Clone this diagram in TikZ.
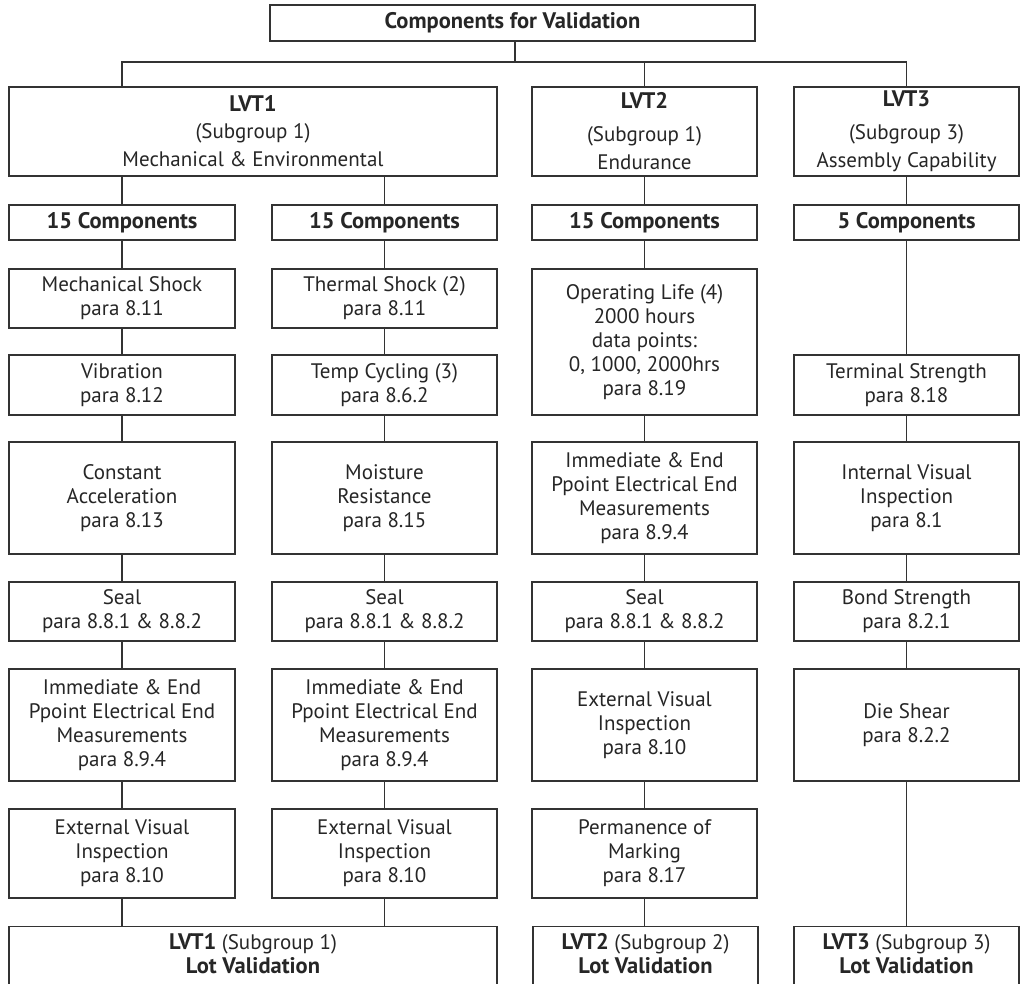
\documentclass[tikz,border=0pt]{standalone}
\usepackage{fontspec}
\setmainfont{PT Sans}
\newcommand{\bt}[1]{{\fontsize{22.5}{24}\selectfont\bfseries #1}}
\begin{document}
\begin{tikzpicture}[x=1pt,y=-1pt,
  bx/.style={draw=black!80, line width=1.3pt, text=black!85, align=center, inner sep=0pt,
    font=\fontsize{21}{24}\selectfont},
  tx/.style={text=black!85, align=center, inner sep=0pt, font=\fontsize{21}{24}\selectfont},
  ln/.style={draw=black!80, line width=1.3pt}]
\clip (0,0) rectangle (1025,984);
\fill[white] (0,0) rectangle (1025,984);
% top
\node[bx, minimum width=485pt, minimum height=36pt] (top) at (512.5,23) {\bt{Components for Validation}};
% LVT headers
\node[bx, minimum width=488pt, minimum height=89pt] (L1) at (253,131.5) {\bt{LVT1}\\[3pt](Subgroup 1)\\[4pt]Mechanical \& Environmental};
\node[bx, minimum width=225pt, minimum height=89pt] (L2) at (644.5,131.5) {\bt{LVT2}\\[9pt](Subgroup 1)\\[4pt]Endurance};
\node[bx, minimum width=225pt, minimum height=89pt] (L3) at (906.5,131.5) {\bt{LVT3}\\[9pt](Subgroup 3)\\[4pt]Assembly Capability};
% component counts
\node[bx, minimum width=226pt, minimum height=35pt] (C1) at (122,222.5) {\bt{15 Components}};
\node[bx, minimum width=225pt, minimum height=35pt] (C2) at (384.5,222.5) {\bt{15 Components}};
\node[bx, minimum width=225pt, minimum height=35pt] (C3) at (644.5,222.5) {\bt{15 Components}};
\node[bx, minimum width=225pt, minimum height=35pt] (C4) at (906.5,222.5) {\bt{5 Components}};
% column 1
\node[bx, minimum width=226pt, minimum height=59pt] (A1) at (122,298.5) {Mechanical Shock\\para 8.11};
\node[bx, minimum width=226pt, minimum height=60pt] (A2) at (122,385) {Vibration\\para 8.12};
\node[bx, minimum width=226pt, minimum height=112pt] (A3) at (122,498) {Constant\\Acceleration\\para 8.13};
\node[bx, minimum width=226pt, minimum height=59pt] (A4) at (122,611.5) {Seal\\para 8.8.1 \& 8.8.2};
\node[bx, minimum width=226pt, minimum height=112pt] (A5) at (122,725) {Immediate \& End\\Ppoint Electrical End\\Measurements\\para 8.9.4};
\node[bx, minimum width=226pt, minimum height=89pt] (A6) at (122,853.5) {External Visual\\Inspection\\para 8.10};
% column 2
\node[bx, minimum width=225pt, minimum height=59pt] (B1) at (384.5,298.5) {Thermal Shock (2)\\para 8.11};
\node[bx, minimum width=225pt, minimum height=60pt] (B2) at (384.5,385) {Temp Cycling (3)\\para 8.6.2};
\node[bx, minimum width=225pt, minimum height=112pt] (B3) at (384.5,498) {Moisture\\Resistance\\para 8.15};
\node[bx, minimum width=225pt, minimum height=59pt] (B4) at (384.5,611.5) {Seal\\para 8.8.1 \& 8.8.2};
\node[bx, minimum width=225pt, minimum height=112pt] (B5) at (384.5,725) {Immediate \& End\\Ppoint Electrical End\\Measurements\\para 8.9.4};
\node[bx, minimum width=225pt, minimum height=89pt] (B6) at (384.5,853.5) {External Visual\\Inspection\\para 8.10};
% column 3
\node[bx, minimum width=225pt, minimum height=146pt] (D1) at (644.5,342) {Operating Life (4)\\2000 hours\\data points:\\0, 1000, 2000hrs\\para 8.19};
\node[bx, minimum width=225pt, minimum height=112pt] (D2) at (644.5,498) {Immediate \& End\\Ppoint Electrical End\\Measurements\\para 8.9.4};
\node[bx, minimum width=225pt, minimum height=59pt] (D3) at (644.5,611.5) {Seal\\para 8.8.1 \& 8.8.2};
\node[bx, minimum width=225pt, minimum height=112pt] (D4) at (644.5,725) {External Visual\\Inspection\\para 8.10};
\node[bx, minimum width=225pt, minimum height=89pt] (D5) at (644.5,853.5) {Permanence of\\Marking\\para 8.17};
% column 4
\node[bx, minimum width=225pt, minimum height=60pt] (E1) at (906.5,385) {Terminal Strength\\para 8.18};
\node[bx, minimum width=225pt, minimum height=112pt] (E2) at (906.5,498) {Internal Visual\\Inspection\\para 8.1};
\node[bx, minimum width=225pt, minimum height=59pt] (E3) at (906.5,611.5) {Bond Strength\\para 8.2.1};
\node[bx, minimum width=225pt, minimum height=112pt] (E4) at (906.5,725) {Die Shear\\para 8.2.2};
% lot validation (cut at bottom)
\node[bx, minimum width=488pt, minimum height=70pt, anchor=north] (V1) at (253,926) {};
\node[bx, minimum width=225pt, minimum height=70pt, anchor=north] (V2) at (645.5,926) {};
\node[bx, minimum width=225pt, minimum height=70pt, anchor=north] (V3) at (906.5,926) {};
\node[tx] (V1t) at (253,954) {\bt{LVT1} (Subgroup 1)\\\bt{Lot Validation}};
\node[tx] (V2t) at (645.5,954) {\bt{LVT2} (Subgroup 2)\\\bt{Lot Validation}};
\node[tx] (V3t) at (906.5,954) {\bt{LVT3} (Subgroup 3)\\\bt{Lot Validation}};
% bus
\coordinate (bus) at (515,62);
\draw[ln] (top.south -| bus) -- (bus);
\draw[ln] (L1.north -| C1) |- (bus) -| (L3.north);
\draw[ln] (bus -| L2) -- (L2.north);
% connectors
\draw[ln] (L1.south -| C1) -- (C1.north);
\draw[ln] (L1.south -| C2) -- (C2.north);
\draw[ln] (L2) -- (C3); \draw[ln] (L3) -- (C4);
\draw[ln] (C1) -- (A1) (A1) -- (A2) (A2) -- (A3) (A3) -- (A4) (A4) -- (A5) (A5) -- (A6) (A6.south) -- (V1.north -| A6);
\draw[ln] (C2) -- (B1) (B1) -- (B2) (B2) -- (B3) (B3) -- (B4) (B4) -- (B5) (B5) -- (B6) (B6.south) -- (V1.north -| B6);
\draw[ln] (C3) -- (D1) (D1) -- (D2) (D2) -- (D3) (D3) -- (D4) (D4) -- (D5) (D5.south) -- (V2.north -| D5);
\draw[ln] (C4) -- (E1) (E1) -- (E2) (E2) -- (E3) (E3) -- (E4) (E4.south) -- (V3.north -| E4);
\end{tikzpicture}
\end{document}
